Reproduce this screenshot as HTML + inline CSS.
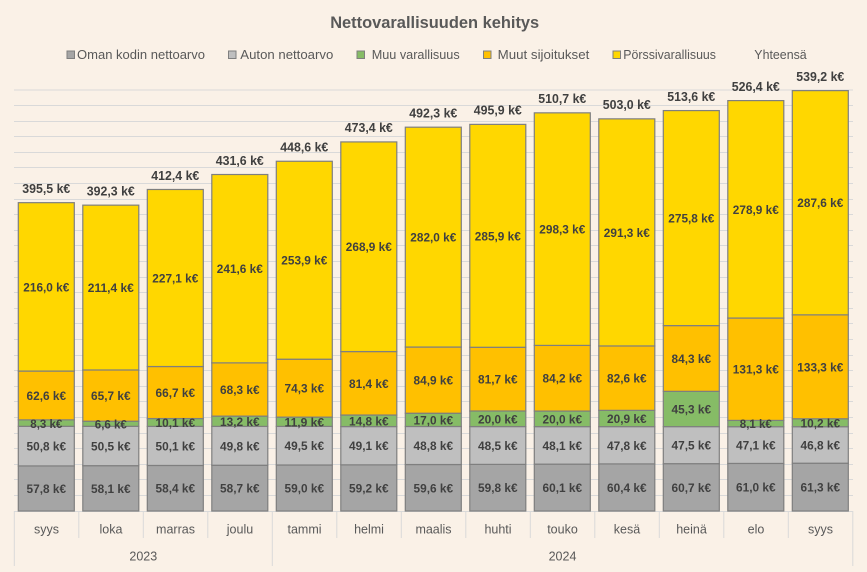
<!DOCTYPE html>
<html><head><meta charset="utf-8"><style>
html,body{margin:0;padding:0;background:#FAF1E7;}
svg{display:block;font-family:"Liberation Sans",sans-serif;}
.l{font-size:11.5px;font-weight:bold;fill:#404040;text-anchor:middle;}
.t{font-size:12.5px;font-weight:bold;fill:#404040;text-anchor:middle;}
.m{font-size:12.5px;fill:#595959;text-anchor:middle;}
.lg{font-size:13px;fill:#595959;}
</style></head><body>
<svg width="867" height="572" viewBox="0 0 867 572" xmlns="http://www.w3.org/2000/svg">
<rect x="0" y="0" width="867" height="572" fill="#FAF1E7"/>
<text x="434.7" y="28" font-size="17" font-weight="bold" fill="#595959" text-anchor="middle" textLength="209" lengthAdjust="spacingAndGlyphs">Nettovarallisuuden kehitys</text>
<g stroke="#7F7F7F" stroke-width="1">
<rect x="67" y="51" width="7.5" height="7.5" fill="#A5A5A5"/>
<rect x="228.5" y="51" width="7.5" height="7.5" fill="#BFBFBF"/>
<rect x="357" y="51" width="7.5" height="7.5" fill="#86BC66"/>
<rect x="483.5" y="51" width="7.5" height="7.5" fill="#FFC000"/>
<rect x="613" y="51" width="7.5" height="7.5" fill="#FFD700"/>
</g>
<text class="lg" x="77" y="59" textLength="128" lengthAdjust="spacingAndGlyphs">Oman kodin nettoarvo</text>
<text class="lg" x="240.3" y="59" textLength="93" lengthAdjust="spacingAndGlyphs">Auton nettoarvo</text>
<text class="lg" x="371.7" y="59" textLength="88" lengthAdjust="spacingAndGlyphs">Muu varallisuus</text>
<text class="lg" x="497.7" y="59" textLength="91.6" lengthAdjust="spacingAndGlyphs">Muut sijoitukset</text>
<text class="lg" x="623.3" y="59" textLength="92.7" lengthAdjust="spacingAndGlyphs">Pörssivarallisuus</text>
<text class="lg" x="754.3" y="59" textLength="52.4" lengthAdjust="spacingAndGlyphs">Yhteensä</text>
<g stroke="#D9D9D9" stroke-width="1">
<line x1="14" x2="853" y1="495.5" y2="495.5"/><line x1="14" x2="853" y1="479.5" y2="479.5"/><line x1="14" x2="853" y1="464.5" y2="464.5"/><line x1="14" x2="853" y1="448.5" y2="448.5"/><line x1="14" x2="853" y1="433.5" y2="433.5"/><line x1="14" x2="853" y1="417.5" y2="417.5"/><line x1="14" x2="853" y1="401.5" y2="401.5"/><line x1="14" x2="853" y1="386.5" y2="386.5"/><line x1="14" x2="853" y1="370.5" y2="370.5"/><line x1="14" x2="853" y1="355.5" y2="355.5"/><line x1="14" x2="853" y1="339.5" y2="339.5"/><line x1="14" x2="853" y1="323.5" y2="323.5"/><line x1="14" x2="853" y1="308.5" y2="308.5"/><line x1="14" x2="853" y1="292.5" y2="292.5"/><line x1="14" x2="853" y1="277.5" y2="277.5"/><line x1="14" x2="853" y1="261.5" y2="261.5"/><line x1="14" x2="853" y1="245.5" y2="245.5"/><line x1="14" x2="853" y1="230.5" y2="230.5"/><line x1="14" x2="853" y1="214.5" y2="214.5"/><line x1="14" x2="853" y1="199.5" y2="199.5"/><line x1="14" x2="853" y1="183.5" y2="183.5"/><line x1="14" x2="853" y1="167.5" y2="167.5"/><line x1="14" x2="853" y1="152.5" y2="152.5"/><line x1="14" x2="853" y1="136.5" y2="136.5"/><line x1="14" x2="853" y1="121.5" y2="121.5"/><line x1="14" x2="853" y1="105.5" y2="105.5"/><line x1="14" x2="853" y1="90" y2="90"/>
<line x1="14" x2="853" y1="511.5" y2="511.5"/>
<line x1="14.3" x2="14.3" y1="511" y2="566"/>
<line x1="78.8" x2="78.8" y1="511" y2="538"/>
<line x1="143.3" x2="143.3" y1="511" y2="538"/>
<line x1="207.8" x2="207.8" y1="511" y2="538"/>
<line x1="272.3" x2="272.3" y1="511" y2="566"/>
<line x1="336.8" x2="336.8" y1="511" y2="538"/>
<line x1="401.3" x2="401.3" y1="511" y2="538"/>
<line x1="465.8" x2="465.8" y1="511" y2="538"/>
<line x1="530.3" x2="530.3" y1="511" y2="538"/>
<line x1="594.8" x2="594.8" y1="511" y2="538"/>
<line x1="659.3" x2="659.3" y1="511" y2="538"/>
<line x1="723.8" x2="723.8" y1="511" y2="538"/>
<line x1="788.3" x2="788.3" y1="511" y2="538"/>
<line x1="852.8" x2="852.8" y1="511" y2="566"/>
</g>
<g stroke="#7F7F7F" stroke-width="1.2">
<rect x="18.3" y="465.94" width="56" height="45.06" fill="#A5A5A5"/>
<rect x="18.3" y="426.33" width="56" height="39.61" fill="#BFBFBF"/>
<rect x="18.3" y="419.86" width="56" height="6.47" fill="#86BC66"/>
<rect x="18.3" y="371.06" width="56" height="48.8" fill="#FFC000"/>
<rect x="18.3" y="202.66" width="56" height="168.4" fill="#FFD700"/>
<rect x="82.8" y="465.70" width="56" height="45.3" fill="#A5A5A5"/>
<rect x="82.8" y="426.33" width="56" height="39.37" fill="#BFBFBF"/>
<rect x="82.8" y="421.19" width="56" height="5.14" fill="#86BC66"/>
<rect x="82.8" y="369.97" width="56" height="51.22" fill="#FFC000"/>
<rect x="82.8" y="205.15" width="56" height="164.82" fill="#FFD700"/>
<rect x="147.3" y="465.47" width="56" height="45.53" fill="#A5A5A5"/>
<rect x="147.3" y="426.41" width="56" height="39.06" fill="#BFBFBF"/>
<rect x="147.3" y="418.54" width="56" height="7.87" fill="#86BC66"/>
<rect x="147.3" y="366.53" width="56" height="52.01" fill="#FFC000"/>
<rect x="147.3" y="189.48" width="56" height="177.05" fill="#FFD700"/>
<rect x="211.8" y="465.24" width="56" height="45.76" fill="#A5A5A5"/>
<rect x="211.8" y="426.41" width="56" height="38.83" fill="#BFBFBF"/>
<rect x="211.8" y="416.12" width="56" height="10.29" fill="#86BC66"/>
<rect x="211.8" y="362.87" width="56" height="53.25" fill="#FFC000"/>
<rect x="211.8" y="174.51" width="56" height="188.36" fill="#FFD700"/>
<rect x="276.3" y="465.0" width="56" height="46" fill="#A5A5A5"/>
<rect x="276.3" y="426.41" width="56" height="38.59" fill="#BFBFBF"/>
<rect x="276.3" y="417.13" width="56" height="9.28" fill="#86BC66"/>
<rect x="276.3" y="359.21" width="56" height="57.92" fill="#FFC000"/>
<rect x="276.3" y="161.26" width="56" height="197.95" fill="#FFD700"/>
<rect x="340.8" y="464.85" width="56" height="46.15" fill="#A5A5A5"/>
<rect x="340.8" y="426.57" width="56" height="38.28" fill="#BFBFBF"/>
<rect x="340.8" y="415.03" width="56" height="11.54" fill="#86BC66"/>
<rect x="340.8" y="351.57" width="56" height="63.46" fill="#FFC000"/>
<rect x="340.8" y="141.92" width="56" height="209.65" fill="#FFD700"/>
<rect x="405.3" y="464.53" width="56" height="46.47" fill="#A5A5A5"/>
<rect x="405.3" y="426.49" width="56" height="38.04" fill="#BFBFBF"/>
<rect x="405.3" y="413.23" width="56" height="13.26" fill="#86BC66"/>
<rect x="405.3" y="347.04" width="56" height="66.19" fill="#FFC000"/>
<rect x="405.3" y="127.19" width="56" height="219.85" fill="#FFD700"/>
<rect x="469.8" y="464.38" width="56" height="46.62" fill="#A5A5A5"/>
<rect x="469.8" y="426.57" width="56" height="37.81" fill="#BFBFBF"/>
<rect x="469.8" y="410.97" width="56" height="15.6" fill="#86BC66"/>
<rect x="469.8" y="347.28" width="56" height="63.69" fill="#FFC000"/>
<rect x="469.8" y="124.38" width="56" height="222.9" fill="#FFD700"/>
<rect x="534.3" y="464.14" width="56" height="46.86" fill="#A5A5A5"/>
<rect x="534.3" y="426.64" width="56" height="37.5" fill="#BFBFBF"/>
<rect x="534.3" y="411.05" width="56" height="15.59" fill="#86BC66"/>
<rect x="534.3" y="345.41" width="56" height="65.64" fill="#FFC000"/>
<rect x="534.3" y="112.84" width="56" height="232.57" fill="#FFD700"/>
<rect x="598.8" y="463.91" width="56" height="47.09" fill="#A5A5A5"/>
<rect x="598.8" y="426.64" width="56" height="37.27" fill="#BFBFBF"/>
<rect x="598.8" y="410.35" width="56" height="16.29" fill="#86BC66"/>
<rect x="598.8" y="345.95" width="56" height="64.4" fill="#FFC000"/>
<rect x="598.8" y="118.85" width="56" height="227.1" fill="#FFD700"/>
<rect x="663.3" y="463.68" width="56" height="47.32" fill="#A5A5A5"/>
<rect x="663.3" y="426.64" width="56" height="37.04" fill="#BFBFBF"/>
<rect x="663.3" y="391.33" width="56" height="35.31" fill="#86BC66"/>
<rect x="663.3" y="325.60" width="56" height="65.73" fill="#FFC000"/>
<rect x="663.3" y="110.58" width="56" height="215.02" fill="#FFD700"/>
<rect x="727.8" y="463.44" width="56" height="47.56" fill="#A5A5A5"/>
<rect x="727.8" y="426.72" width="56" height="36.72" fill="#BFBFBF"/>
<rect x="727.8" y="420.41" width="56" height="6.31" fill="#86BC66"/>
<rect x="727.8" y="318.04" width="56" height="102.37" fill="#FFC000"/>
<rect x="727.8" y="100.60" width="56" height="217.44" fill="#FFD700"/>
<rect x="792.3" y="463.21" width="56" height="47.79" fill="#A5A5A5"/>
<rect x="792.3" y="426.72" width="56" height="36.49" fill="#BFBFBF"/>
<rect x="792.3" y="418.77" width="56" height="7.95" fill="#86BC66"/>
<rect x="792.3" y="314.84" width="56" height="103.93" fill="#FFC000"/>
<rect x="792.3" y="90.62" width="56" height="224.22" fill="#FFD700"/>
</g>
<g>
<text class="l" x="46.3" y="493" textLength="39.5" lengthAdjust="spacingAndGlyphs">57,8 k€</text>
<text class="l" x="46.3" y="450.6" textLength="39.5" lengthAdjust="spacingAndGlyphs">50,8 k€</text>
<text class="l" x="46.3" y="428" textLength="32" lengthAdjust="spacingAndGlyphs">8,3 k€</text>
<text class="l" x="46.3" y="400" textLength="39.5" lengthAdjust="spacingAndGlyphs">62,6 k€</text>
<text class="l" x="46.3" y="291.4" textLength="46" lengthAdjust="spacingAndGlyphs">216,0 k€</text>

<text class="l" x="110.8" y="492.9" textLength="39.5" lengthAdjust="spacingAndGlyphs">58,1 k€</text>
<text class="l" x="110.8" y="450.5" textLength="39.5" lengthAdjust="spacingAndGlyphs">50,5 k€</text>
<text class="l" x="110.8" y="428.5" textLength="32" lengthAdjust="spacingAndGlyphs">6,6 k€</text>
<text class="l" x="110.8" y="400.1" textLength="39.5" lengthAdjust="spacingAndGlyphs">65,7 k€</text>
<text class="l" x="110.8" y="292.1" textLength="46" lengthAdjust="spacingAndGlyphs">211,4 k€</text>

<text class="l" x="175.3" y="492.7" textLength="39.5" lengthAdjust="spacingAndGlyphs">58,4 k€</text>
<text class="l" x="175.3" y="450.4" textLength="39.5" lengthAdjust="spacingAndGlyphs">50,1 k€</text>
<text class="l" x="175.3" y="427.2" textLength="39.5" lengthAdjust="spacingAndGlyphs">10,1 k€</text>
<text class="l" x="175.3" y="397" textLength="39.5" lengthAdjust="spacingAndGlyphs">66,7 k€</text>
<text class="l" x="175.3" y="282.5" textLength="46" lengthAdjust="spacingAndGlyphs">227,1 k€</text>

<text class="l" x="239.8" y="492.6" textLength="39.5" lengthAdjust="spacingAndGlyphs">58,7 k€</text>
<text class="l" x="239.8" y="450.3" textLength="39.5" lengthAdjust="spacingAndGlyphs">49,8 k€</text>
<text class="l" x="239.8" y="425.9" textLength="39.5" lengthAdjust="spacingAndGlyphs">13,2 k€</text>
<text class="l" x="239.8" y="394" textLength="39.5" lengthAdjust="spacingAndGlyphs">68,3 k€</text>
<text class="l" x="239.8" y="273.2" textLength="46" lengthAdjust="spacingAndGlyphs">241,6 k€</text>

<text class="l" x="304.3" y="492.5" textLength="39.5" lengthAdjust="spacingAndGlyphs">59,0 k€</text>
<text class="l" x="304.3" y="450.2" textLength="39.5" lengthAdjust="spacingAndGlyphs">49,5 k€</text>
<text class="l" x="304.3" y="426.3" textLength="39.5" lengthAdjust="spacingAndGlyphs">11,9 k€</text>
<text class="l" x="304.3" y="392.7" textLength="39.5" lengthAdjust="spacingAndGlyphs">74,3 k€</text>
<text class="l" x="304.3" y="264.7" textLength="46" lengthAdjust="spacingAndGlyphs">253,9 k€</text>

<text class="l" x="368.8" y="492.4" textLength="39.5" lengthAdjust="spacingAndGlyphs">59,2 k€</text>
<text class="l" x="368.8" y="450.2" textLength="39.5" lengthAdjust="spacingAndGlyphs">49,1 k€</text>
<text class="l" x="368.8" y="425.3" textLength="39.5" lengthAdjust="spacingAndGlyphs">14,8 k€</text>
<text class="l" x="368.8" y="387.8" textLength="39.5" lengthAdjust="spacingAndGlyphs">81,4 k€</text>
<text class="l" x="368.8" y="251.2" textLength="46" lengthAdjust="spacingAndGlyphs">268,9 k€</text>

<text class="l" x="433.3" y="492.3" textLength="39.5" lengthAdjust="spacingAndGlyphs">59,6 k€</text>
<text class="l" x="433.3" y="450" textLength="39.5" lengthAdjust="spacingAndGlyphs">48,8 k€</text>
<text class="l" x="433.3" y="424.4" textLength="39.5" lengthAdjust="spacingAndGlyphs">17,0 k€</text>
<text class="l" x="433.3" y="384.6" textLength="39.5" lengthAdjust="spacingAndGlyphs">84,9 k€</text>
<text class="l" x="433.3" y="241.6" textLength="46" lengthAdjust="spacingAndGlyphs">282,0 k€</text>

<text class="l" x="497.8" y="492.2" textLength="39.5" lengthAdjust="spacingAndGlyphs">59,8 k€</text>
<text class="l" x="497.8" y="450" textLength="39.5" lengthAdjust="spacingAndGlyphs">48,5 k€</text>
<text class="l" x="497.8" y="423.3" textLength="39.5" lengthAdjust="spacingAndGlyphs">20,0 k€</text>
<text class="l" x="497.8" y="383.6" textLength="39.5" lengthAdjust="spacingAndGlyphs">81,7 k€</text>
<text class="l" x="497.8" y="240.3" textLength="46" lengthAdjust="spacingAndGlyphs">285,9 k€</text>

<text class="l" x="562.3" y="492.1" textLength="39.5" lengthAdjust="spacingAndGlyphs">60,1 k€</text>
<text class="l" x="562.3" y="449.9" textLength="39.5" lengthAdjust="spacingAndGlyphs">48,1 k€</text>
<text class="l" x="562.3" y="423.4" textLength="39.5" lengthAdjust="spacingAndGlyphs">20,0 k€</text>
<text class="l" x="562.3" y="382.7" textLength="39.5" lengthAdjust="spacingAndGlyphs">84,2 k€</text>
<text class="l" x="562.3" y="233.6" textLength="46" lengthAdjust="spacingAndGlyphs">298,3 k€</text>

<text class="l" x="626.8" y="492" textLength="39.5" lengthAdjust="spacingAndGlyphs">60,4 k€</text>
<text class="l" x="626.8" y="449.8" textLength="39.5" lengthAdjust="spacingAndGlyphs">47,8 k€</text>
<text class="l" x="626.8" y="423" textLength="39.5" lengthAdjust="spacingAndGlyphs">20,9 k€</text>
<text class="l" x="626.8" y="382.6" textLength="39.5" lengthAdjust="spacingAndGlyphs">82,6 k€</text>
<text class="l" x="626.8" y="236.9" textLength="46" lengthAdjust="spacingAndGlyphs">291,3 k€</text>

<text class="l" x="691.3" y="491.8" textLength="39.5" lengthAdjust="spacingAndGlyphs">60,7 k€</text>
<text class="l" x="691.3" y="449.7" textLength="39.5" lengthAdjust="spacingAndGlyphs">47,5 k€</text>
<text class="l" x="691.3" y="413.5" textLength="39.5" lengthAdjust="spacingAndGlyphs">45,3 k€</text>
<text class="l" x="691.3" y="363" textLength="39.5" lengthAdjust="spacingAndGlyphs">84,3 k€</text>
<text class="l" x="691.3" y="222.6" textLength="46" lengthAdjust="spacingAndGlyphs">275,8 k€</text>

<text class="l" x="755.8" y="491.7" textLength="39.5" lengthAdjust="spacingAndGlyphs">61,0 k€</text>
<text class="l" x="755.8" y="449.6" textLength="39.5" lengthAdjust="spacingAndGlyphs">47,1 k€</text>
<text class="l" x="755.8" y="428.1" textLength="32" lengthAdjust="spacingAndGlyphs">8,1 k€</text>
<text class="l" x="755.8" y="373.7" textLength="46" lengthAdjust="spacingAndGlyphs">131,3 k€</text>
<text class="l" x="755.8" y="213.8" textLength="46" lengthAdjust="spacingAndGlyphs">278,9 k€</text>

<text class="l" x="820.3" y="491.6" textLength="39.5" lengthAdjust="spacingAndGlyphs">61,3 k€</text>
<text class="l" x="820.3" y="449.5" textLength="39.5" lengthAdjust="spacingAndGlyphs">46,8 k€</text>
<text class="l" x="820.3" y="427.3" textLength="39.5" lengthAdjust="spacingAndGlyphs">10,2 k€</text>
<text class="l" x="820.3" y="371.3" textLength="46" lengthAdjust="spacingAndGlyphs">133,3 k€</text>
<text class="l" x="820.3" y="207.2" textLength="46" lengthAdjust="spacingAndGlyphs">287,6 k€</text>
</g>
<g>
<text class="t" x="46.3" y="193" textLength="48" lengthAdjust="spacingAndGlyphs">395,5 k€</text>
<text class="t" x="110.8" y="195.5" textLength="48" lengthAdjust="spacingAndGlyphs">392,3 k€</text>
<text class="t" x="175.3" y="179.8" textLength="48" lengthAdjust="spacingAndGlyphs">412,4 k€</text>
<text class="t" x="239.8" y="164.8" textLength="48" lengthAdjust="spacingAndGlyphs">431,6 k€</text>
<text class="t" x="304.3" y="151.6" textLength="48" lengthAdjust="spacingAndGlyphs">448,6 k€</text>
<text class="t" x="368.8" y="132.2" textLength="48" lengthAdjust="spacingAndGlyphs">473,4 k€</text>
<text class="t" x="433.3" y="117.5" textLength="48" lengthAdjust="spacingAndGlyphs">492,3 k€</text>
<text class="t" x="497.8" y="114.7" textLength="48" lengthAdjust="spacingAndGlyphs">495,9 k€</text>
<text class="t" x="562.3" y="103.1" textLength="48" lengthAdjust="spacingAndGlyphs">510,7 k€</text>
<text class="t" x="626.8" y="109.2" textLength="48" lengthAdjust="spacingAndGlyphs">503,0 k€</text>
<text class="t" x="691.3" y="100.9" textLength="48" lengthAdjust="spacingAndGlyphs">513,6 k€</text>
<text class="t" x="755.8" y="90.9" textLength="48" lengthAdjust="spacingAndGlyphs">526,4 k€</text>
<text class="t" x="820.3" y="80.9" textLength="48" lengthAdjust="spacingAndGlyphs">539,2 k€</text>
</g>
<g>
<text class="m" x="46.5" y="533.3">syys</text>
<text class="m" x="111" y="533.3">loka</text>
<text class="m" x="175.5" y="533.3">marras</text>
<text class="m" x="240" y="533.3">joulu</text>
<text class="m" x="304.5" y="533.3">tammi</text>
<text class="m" x="369" y="533.3">helmi</text>
<text class="m" x="433.5" y="533.3">maalis</text>
<text class="m" x="498" y="533.3">huhti</text>
<text class="m" x="562.5" y="533.3">touko</text>
<text class="m" x="627" y="533.3">kesä</text>
<text class="m" x="691.5" y="533.3">heinä</text>
<text class="m" x="756" y="533.3">elo</text>
<text class="m" x="820.5" y="533.3">syys</text>
<text class="m" x="143.3" y="560.3">2023</text>
<text class="m" x="562.5" y="560.3">2024</text>
</g>
</svg>
</body></html>
